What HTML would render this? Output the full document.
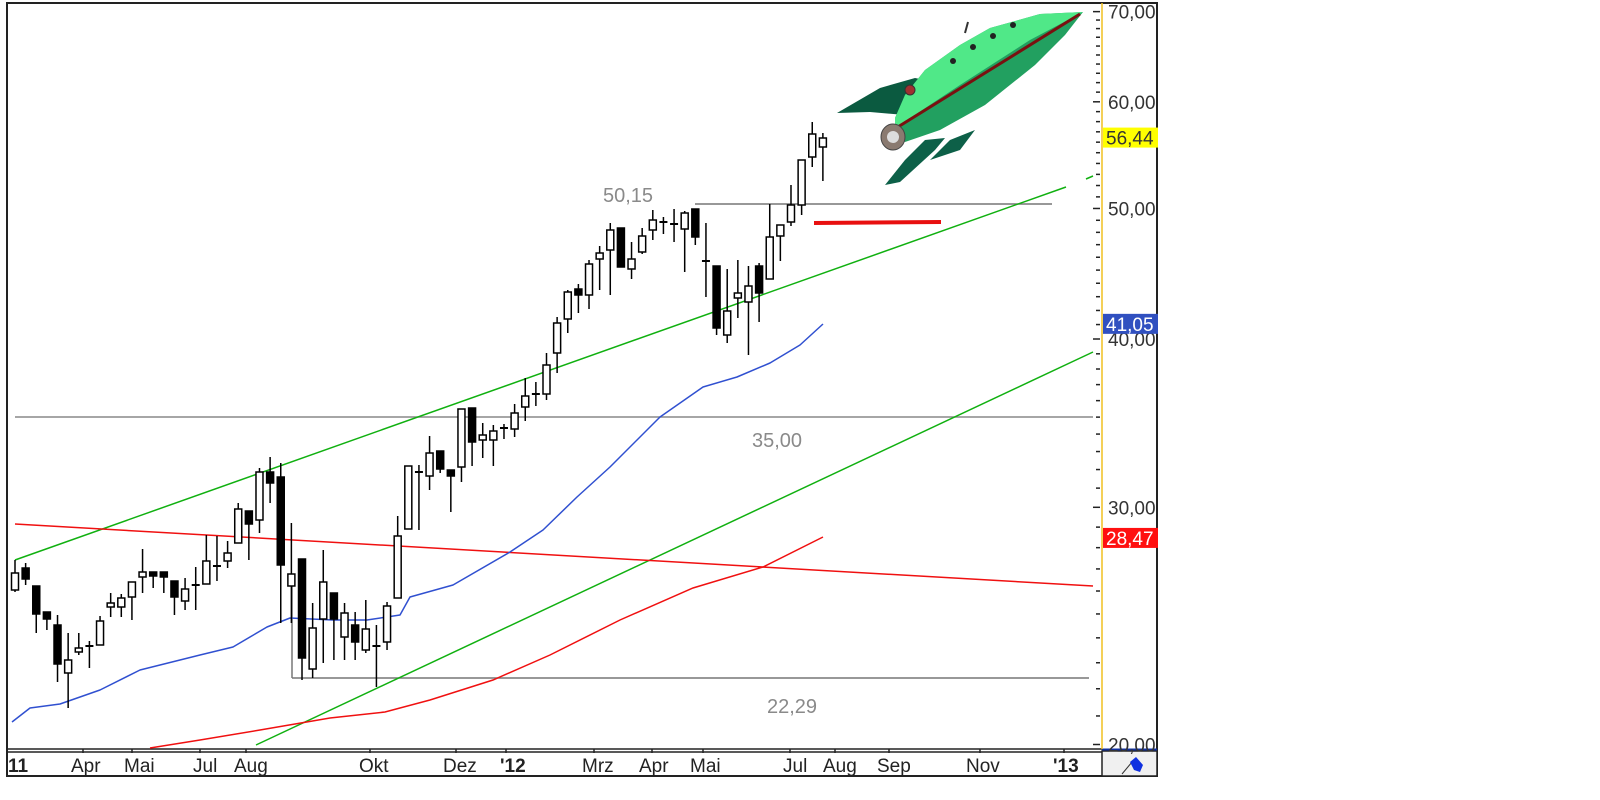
<!DOCTYPE html>
<html><head><meta charset="utf-8">
<style>
html,body{margin:0;padding:0;background:#fff;width:1600px;height:800px;overflow:hidden}
svg text{font-family:"Liberation Sans",sans-serif}
</style></head>
<body>
<svg id="c" width="1600" height="800" xmlns="http://www.w3.org/2000/svg">
<rect x="0" y="0" width="1600" height="800" fill="#fff"/>
<rect x="7" y="3" width="1150" height="773" fill="none" stroke="#222" stroke-width="2"/>
<line x1="7" y1="749" x2="1102" y2="749" stroke="#222" stroke-width="1.5"/>
<line x1="7" y1="752" x2="1102" y2="752" stroke="#222" stroke-width="1.5"/>
<rect x="1102" y="751" width="55" height="25" fill="#f0f0f0" stroke="#222" stroke-width="1.5"/>
<line x1="1102" y1="749.5" x2="1157" y2="749.5" stroke="#1030a0" stroke-width="2"/>
<line x1="1102" y1="3" x2="1102" y2="749" stroke="#f0c020" stroke-width="1.5"/>
<g id="grid"></g>
<g id="lines"></g>
<g id="candles"></g>
<g id="axis"></g>
<line x1="1122" y1="774" x2="1132" y2="762" stroke="#333" stroke-width="1"/>
<polygon points="1130,762 1136,757 1143,765 1140,772 1134,770" fill="#1030e0"/>
<g font-size="19" fill="#222">
<text x="8" y="772" font-weight="bold">11</text>
<text x="71" y="772">Apr</text>
<text x="124" y="772">Mai</text>
<text x="193" y="772">Jul</text>
<text x="234" y="772">Aug</text>
<text x="359" y="772">Okt</text>
<text x="443" y="772">Dez</text>
<text x="500" y="772" font-weight="bold">'12</text>
<text x="582" y="772">Mrz</text>
<text x="639" y="772">Apr</text>
<text x="690" y="772">Mai</text>
<text x="783" y="772">Jul</text>
<text x="823" y="772">Aug</text>
<text x="877" y="772">Sep</text>
<text x="966" y="772">Nov</text>
<text x="1053" y="772" font-weight="bold">'13</text>
</g>
<g stroke="#222" stroke-width="1.5">
<line x1="83" y1="749" x2="83" y2="753"/><line x1="132" y1="749" x2="132" y2="753"/>
<line x1="200" y1="749" x2="200" y2="753"/><line x1="246" y1="749" x2="246" y2="753"/>
<line x1="370" y1="749" x2="370" y2="753"/><line x1="456" y1="749" x2="456" y2="753"/>
<line x1="506" y1="749" x2="506" y2="753"/><line x1="594" y1="749" x2="594" y2="753"/>
<line x1="652" y1="749" x2="652" y2="753"/><line x1="703" y1="749" x2="703" y2="753"/>
<line x1="790" y1="749" x2="790" y2="753"/><line x1="835" y1="749" x2="835" y2="753"/>
<line x1="889" y1="749" x2="889" y2="753"/><line x1="980" y1="749" x2="980" y2="753"/>
<line x1="1064" y1="749" x2="1064" y2="753"/>
</g>
<g font-size="20" fill="#8a8a8a">
<text x="603" y="202">50,15</text>
<text x="752" y="447">35,00</text>
<text x="767" y="713">22,29</text>
</g>
<line x1="814" y1="223" x2="941" y2="222" stroke="#e81010" stroke-width="4"/>
<g>
<polygon points="837,113 880,88 915,78 935,82 905,115 870,112" fill="#0b5a40"/>
<polygon points="885,185 905,160 925,140 945,138 935,150 900,182" fill="#0d6048"/>
<polygon points="930,160 950,140 975,130 960,150" fill="#0d6048"/>
<polygon points="1083,12 1040,14 990,28 960,45 925,70 905,95 895,118 895,135 905,142 940,130 985,105 1035,65 1065,35" fill="#22a060"/>
<polygon points="1083,12 1040,14 990,28 960,45 925,70 905,95 895,118 895,128 960,85 1030,40" fill="#50e888"/>
<line x1="893" y1="130" x2="1080" y2="14" stroke="#7a1010" stroke-width="3"/>
<ellipse cx="893" cy="137" rx="12" ry="13" fill="#8a7a70" stroke="#444"/>
<circle cx="893" cy="137" r="6" fill="#ddd"/>
<circle cx="910" cy="90" r="5" fill="#a03030" stroke="#333"/>
<circle cx="973" cy="47" r="3" fill="#222"/><circle cx="993" cy="36" r="3" fill="#222"/><circle cx="1013" cy="25" r="3" fill="#222"/><circle cx="953" cy="61" r="3" fill="#222"/>
<line x1="965" y1="33" x2="968" y2="22" stroke="#333" stroke-width="2"/>
</g>
</svg>
<script>
const Y=p=>2497-585*Math.log(p);
const ns="http://www.w3.org/2000/svg";
function el(g,t,a){const e=document.createElementNS(ns,t);for(const k in a)e.setAttribute(k,a[k]);document.getElementById(g).appendChild(e);return e;}
for(let p=20;p<=70;p++){const y=Y(p);const maj=p%10==0;el('axis','line',{x1:maj?1093:1096,x2:1100,y1:y,y2:y,stroke:'#222','stroke-width':1.5});
 if(maj){const t=el('axis','text',{x:1108,y:y+7,'font-size':19,fill:'#333'});t.textContent=p+',00';}}
function tag(v,bg,fg){const y=Y(v);el('axis','rect',{x:1103,y:y-10,width:55,height:20,fill:bg});const t=el('axis','text',{x:1106,y:y+7,'font-size':19,fill:fg});t.textContent=v.toFixed(2).replace('.',',');}
tag(56.44,'#ffff00','#333');tag(41.05,'#3050c0','#fff');tag(28.47,'#ff1010','#fff');
el('lines','line',{x1:15,y1:417,x2:1093,y2:417,stroke:'#888','stroke-width':1.5});
el('lines','line',{x1:292,y1:678,x2:1089,y2:678,stroke:'#777','stroke-width':1.5});
el('lines','line',{x1:292,y1:575,x2:292,y2:678,stroke:'#777','stroke-width':1.5});
el('lines','line',{x1:695,y1:204,x2:1052,y2:204,stroke:'#777','stroke-width':1.5});
el('lines','line',{x1:15,y1:560,x2:1066,y2:187,stroke:'#10b010','stroke-width':1.5});
el('lines','line',{x1:1086,y1:179,x2:1093,y2:176,stroke:'#10b010','stroke-width':1.5});
el('lines','line',{x1:256,y1:745,x2:1093,y2:352,stroke:'#10b010','stroke-width':1.5});
el('lines','line',{x1:15,y1:524,x2:1093,y2:586,stroke:'#f01010','stroke-width':1.5});
el('lines','polyline',{points:'150,748 200,740 260,730 330,718 385,712 430,700 493,680 550,655 620,620 693,588 763,567 823,537',fill:'none',stroke:'#f01010','stroke-width':1.5});
el('lines','polyline',{points:'12,722 30,708 60,704 100,690 140,670 200,655 233,647 267,627 290,618 333,620 367,620 400,615 410,597 453,585 510,552 543,530 577,497 610,467 660,417 703,387 737,377 770,363 800,345 823,324',fill:'none',stroke:'#3050d0','stroke-width':1.5,'stroke-linejoin':'round'});
const C=[[573,590,560,592,0],[568,579,563,585,1],[586,614,586,633,1],[612,619,612,630,1],[625,664,615,682,1],[660,673,633,708,0],[648,652,633,655,0],[646,646,641,668,0],[621,645,616,645,0],[603,607,593,617,0],[598,607,594,617,0],[582,597,582,620,0],[572,577,549,593,0],[572,576,572,588,1],[572,577,572,593,1],[581,597,581,615,1],[589,601,578,610,0],[585,585,567,610,0],[561,584,535,584,0],[566,566,536,581,0],[553,561,541,568,0],[509,543,503,543,0],[511,524,511,560,1],[472,520,468,533,0],[472,483,457,503,1],[477,565,463,623,1],[574,586,523,623,0],[559,658,559,680,1],[628,669,603,678,0],[582,619,550,663,0],[593,619,593,660,1],[613,637,603,660,0],[625,642,612,660,1],[629,650,600,653,0],[646,646,625,687,0],[606,642,602,650,0],[536,598,516,598,0],[466,529,466,529,0],[472,472,465,530,0],[453,476,436,490,0],[451,469,451,473,1],[470,476,470,512,1],[409,467,409,482,0],[408,442,408,466,1],[435,440,423,458,0],[431,440,425,466,0],[428,428,424,439,0],[413,429,404,437,0],[396,407,378,421,0],[394,394,382,406,0],[365,394,353,400,0],[323,353,317,373,0],[292,319,290,333,0],[289,295,284,313,1],[264,295,260,309,0],[253,259,246,290,0],[230,250,223,295,0],[228,267,228,267,1],[259,269,242,279,0],[236,252,228,254,0],[220,230,210,240,0],[222,222,217,234,0],[224,224,209,242,0],[213,229,211,272,0],[209,237,209,245,1],[261,261,223,297,0],[266,328,266,335,1],[311,335,269,343,0],[293,298,260,318,0],[286,302,266,355,0],[266,293,263,322,1],[237,279,204,279,0],[225,236,225,261,0],[205,222,185,226,0],[160,205,160,215,0],[134,157,122,167,0],[138,147,133,181,0]];
C.forEach((c,i)=>{const x=15+10.63*i;
 el('candles','line',{x1:x,x2:x,y1:c[2],y2:c[3],stroke:'#000','stroke-width':1.5});
 if(c[1]-c[0]<2){el('candles','line',{x1:x-4,x2:x+4,y1:c[0],y2:c[0],stroke:'#000','stroke-width':2});}
 else el('candles','rect',{x:x-3.5,y:c[0],width:7,height:c[1]-c[0],fill:c[4]?'#000':'#fff',stroke:'#000','stroke-width':1.5});
});
</script>
</body></html>
